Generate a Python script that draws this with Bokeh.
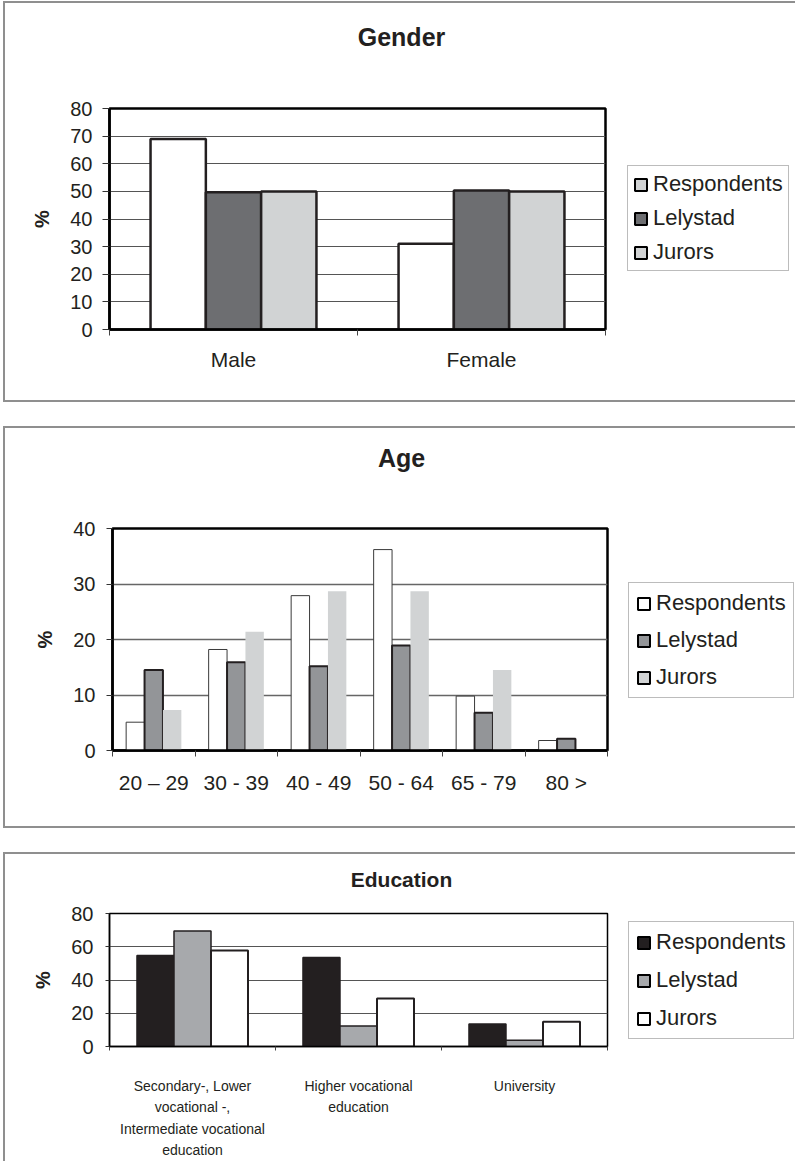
import numpy as np
from bokeh.plotting import figure
from bokeh.models import (ColumnDataSource, FixedTicker, Legend, LegendItem,
                          Range1d, Div)
from bokeh.transform import dodge
from bokeh.layouts import column, row
from bokeh.embed import file_html
from bokeh.resources import INLINE

FONT = "Liberation Sans"
INK = "#231f20"

series = ["Respondents", "Lelystad", "Jurors"]

gender_cats = ["Male", "Female"]
gender_resp = [69.0, 31.0]
gender_lely = [49.7, 50.3]
gender_jur = [50.0, 50.0]

age_cats = ["20 \u2013 29", "30 - 39", "40 - 49", "50 - 64", "65 - 79", "80 >"]
age_resp = [5.1, 18.2, 27.9, 36.2, 9.8, 1.8]
age_lely = [14.5, 15.9, 15.2, 18.9, 6.8, 2.1]
age_jur = [7.3, 21.4, 28.7, 28.7, 14.5, 0.0]

edu_cats = ["Secondary-, Lower\nvocational -,\nIntermediate vocational\neducation",
            "Higher vocational\neducation",
            "University"]
edu_resp = [54.8, 53.5, 13.6]
edu_lely = [69.5, 12.3, 3.8]
edu_jur = [57.8, 28.8, 14.9]

BORDER = "2px solid #8f8f8f"


def panel(title, cats, vals, ymax, ystep, title_h, title_lh, title_size,
          fig_h, chart_w, mb, bar_styles, legend_fills, legend_cfg, tick_size,
          xlab_size, xlab_standoff, ylab_standoff, frame_lw, grid_color, grid_w,
          ytick_out, xtick_out, panel_styles, xlab_line_height=1.2):
    n = len(cats)
    p = figure(width=chart_w, height=fig_h, output_backend="svg",
               toolbar_location=None,
               x_range=Range1d(0, n), y_range=Range1d(0, ymax),
               min_border_left=mb[0], min_border_right=mb[1],
               min_border_top=mb[2], min_border_bottom=mb[3],
               background_fill_color="white", border_fill_color="white")
    centers = list(np.arange(n) + 0.5)
    src = ColumnDataSource(dict(x=centers, resp=vals[0], lely=vals[1], jur=vals[2]))
    bw = 0.223
    for key, off, st in zip(["resp", "lely", "jur"], [-bw, 0.0, bw], bar_styles):
        p.vbar(x=dodge("x", off, range=p.x_range), top=key, bottom=0, width=bw,
               source=src, fill_color=st[0], line_color=st[1], line_width=st[2])

    p.xgrid.visible = False
    p.ygrid.grid_line_color = grid_color
    p.ygrid.grid_line_width = grid_w
    p.ygrid.ticker = FixedTicker(ticks=list(range(0, ymax + 1, ystep)))
    p.outline_line_color = "black"
    p.outline_line_width = frame_lw

    xa = p.xaxis[0]
    xa.ticker = FixedTicker(ticks=centers, minor_ticks=list(range(n + 1)))
    xa.major_label_overrides = {c: lab for c, lab in zip(centers, cats)}
    xa.major_tick_out = 0
    xa.major_tick_in = 0
    xa.minor_tick_out = xtick_out
    xa.minor_tick_in = 0
    xa.minor_tick_line_color = "#444444"
    xa.axis_line_color = "black"
    xa.axis_line_width = frame_lw
    xa.major_label_text_font = FONT
    xa.major_label_text_font_size = xlab_size
    xa.major_label_text_color = INK
    xa.major_label_standoff = xlab_standoff
    xa.major_label_text_line_height = xlab_line_height

    ya = p.yaxis[0]
    ya.ticker = FixedTicker(ticks=list(range(0, ymax + 1, ystep)), minor_ticks=[])
    ya.major_tick_out = ytick_out
    ya.major_tick_in = 0
    ya.major_tick_line_color = "#333333"
    ya.axis_line_color = "black"
    ya.axis_line_width = frame_lw
    ya.major_label_text_font = FONT
    ya.major_label_text_font_size = tick_size
    ya.major_label_text_color = INK
    ya.major_label_standoff = ylab_standoff
    ya.axis_label = "%"
    ya.axis_label_text_font = FONT
    ya.axis_label_text_font_size = "20px"
    ya.axis_label_text_font_style = "bold"
    ya.axis_label_text_color = INK
    ya.axis_label_standoff = 14

    # key drawn in its own small figure (proxies lie outside its ranges)
    q = figure(width=790 - chart_w, height=fig_h, output_backend="svg",
               toolbar_location=None, x_axis_location=None, y_axis_location=None,
               x_range=Range1d(-100, -99), y_range=Range1d(0, 1),
               min_border=0, min_border_left=0, min_border_right=0,
               min_border_top=0, min_border_bottom=0,
               outline_line_color=None, background_fill_color="white",
               border_fill_color="white")
    q.grid.visible = False
    items = []
    for s, fc in zip(series, legend_fills):
        r = q.vbar(x="x", top=0, bottom=0, width=0.1, source=src, fill_color=fc,
                   line_color="black", line_width=2)
        items.append(LegendItem(label=s, renderers=[r]))
    lg = Legend(items=items, location=legend_cfg["loc"], orientation="vertical",
                label_text_font=FONT, label_text_font_size="22px",
                label_text_color=INK, glyph_width=15, glyph_height=15,
                label_standoff=5, label_height=20, padding=legend_cfg["pad"],
                spacing=legend_cfg["spacing"], margin=0,
                border_line_color="#7a7a7a", border_line_width=1.5,
                background_fill_color="white", background_fill_alpha=1.0)
    q.add_layout(lg)

    head = Div(text=title, width=790, height=title_h, margin=0,
               styles={"font-family": FONT, "font-size": title_size,
                       "font-weight": "bold", "color": INK,
                       "text-align": "center", "line-height": title_lh,
                       "padding-left": "3px"})
    return column(head, row(p, q, spacing=0), spacing=0, styles=panel_styles)


p1 = panel("Gender", gender_cats, [gender_resp, gender_lely, gender_jur], 80, 10,
           70, "69px", "25px",
           327, 605, (104, 5, 35, 71),
           [("white", INK, 2.5), ("#6d6e71", INK, 2.5), ("#d1d3d4", INK, 2.5)],
           ["#d1d3d4", "#6d6e71", "#d1d3d4"],
           dict(loc=(17, 58), pad=5, spacing=8),
           "20px", "21px", 12, 10, 2.5, "#555555", 1, 7, 6,
           {"margin-left": "3px", "margin-top": "1px", "border-left": BORDER,
            "border-top": BORDER, "border-bottom": BORDER})

p2 = panel("Age", age_cats, [age_resp, age_lely, age_jur], 40, 10,
           60, "60px", "25px",
           338, 607, (107, 5, 40, 76),
           [("white", "#3a3a3a", 1), ("#939598", INK, 2), ("#d1d3d4", None, 1)],
           ["white", "#939598", "#d1d3d4"],
           dict(loc=(16, 52), pad=7, spacing=11),
           "20px", "21px", 14, 11, 2.5, "#666666", 1.5, 6, 6,
           {"margin-left": "3px", "margin-top": "24px", "border-left": BORDER,
            "border-top": BORDER, "border-bottom": BORDER})

p3 = panel("Education", edu_cats, [edu_resp, edu_lely, edu_jur], 80, 20,
           40, "52px", "21px",
           267, 607, (104, 5, 19, 99),
           [(INK, INK, 1.5), ("#a7a9ac", INK, 1.5), ("white", INK, 2)],
           [INK, "#a7a9ac", "white"],
           dict(loc=(16, 7), pad=7, spacing=12),
           "20px", "14px", 27, 12, 1.5, "#555555", 1, 4, 4,
           {"margin-left": "3px", "margin-top": "24px", "border-left": BORDER,
            "border-top": BORDER},
           xlab_line_height=1.35)

layout = column(p1, p2, p3, spacing=0)
open("out.html", "w").write(file_html(layout, INLINE))
